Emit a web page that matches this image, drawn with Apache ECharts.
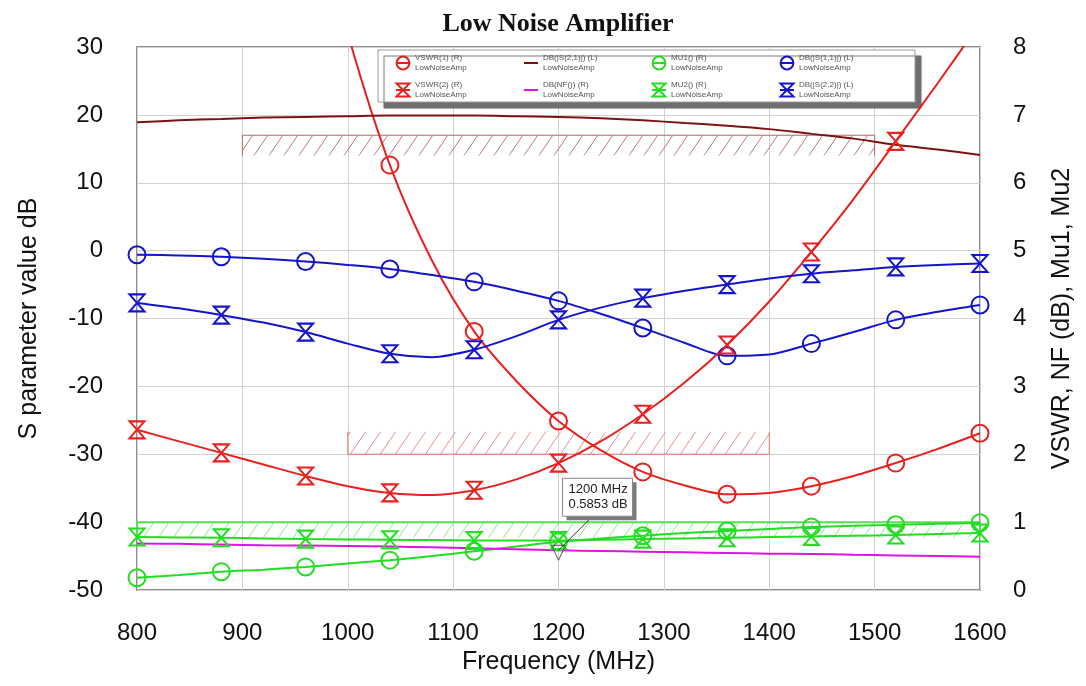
<!DOCTYPE html>
<html>
<head>
<meta charset="utf-8">
<title>Low Noise Amplifier</title>
<script src="https://cdn.jsdelivr.net/npm/echarts@6/dist/echarts.min.js"></script>
<style>
  html, body { margin: 0; padding: 0; background: #ffffff; }
  #chart { width: 1086px; height: 686px; }
</style>
</head>
<body>
<div id="chart"></div>
<script>
// Sweep frequencies (MHz); markers are drawn on every other point (80 MHz steps)
const freq = [800, 840, 880, 920, 960, 1000, 1040, 1080, 1120, 1160, 1200,
              1240, 1280, 1320, 1360, 1400, 1440, 1480, 1520, 1560, 1600];

// Left axis (dB)
const s21 = [18.9, 19.2, 19.4, 19.6, 19.7, 19.8, 19.9, 19.9, 19.9, 19.8, 19.7,
             19.5, 19.2, 18.8, 18.4, 17.9, 17.2, 16.5, 15.6, 14.9, 14.1];
const s11 = [-0.6, -0.7, -0.9, -1.2, -1.6, -2.1, -2.7, -3.6, -4.6, -5.9, -7.4,
             -9.3, -11.4, -13.6, -15.5, -15.3, -13.7, -12.0, -10.2, -9.0, -8.0];
const s22 = [-7.7, -8.5, -9.5, -10.6, -12.0, -13.7, -15.2, -15.7, -14.6, -12.6, -10.2,
             -8.4, -7.0, -5.9, -5.0, -4.1, -3.4, -2.9, -2.4, -2.1, -1.9];

// Right axis (VSWR, NF in dB, stability factors)
const vswr1 = [24.0, 20.0, 16.6, 13.5, 10.6, 8.2, 6.26, 4.85, 3.81, 3.08, 2.49,
               2.06, 1.74, 1.54, 1.41, 1.43, 1.53, 1.68, 1.87, 2.08, 2.31];
const vswr2 = [2.36, 2.19, 2.02, 1.85, 1.68, 1.53, 1.43, 1.40, 1.47, 1.63, 1.87,
               2.19, 2.59, 3.06, 3.61, 4.25, 4.98, 5.76, 6.61, 7.47, 8.35];
const mu1 = [0.18, 0.22, 0.27, 0.30, 0.34, 0.39, 0.44, 0.50, 0.57, 0.64, 0.71,
             0.76, 0.80, 0.84, 0.87, 0.90, 0.93, 0.945, 0.96, 0.975, 0.99];
const mu2 = [0.78, 0.775, 0.77, 0.76, 0.75, 0.745, 0.74, 0.735, 0.73, 0.73, 0.73,
             0.74, 0.75, 0.76, 0.77, 0.78, 0.79, 0.80, 0.81, 0.825, 0.84];
const nf = [0.685, 0.68, 0.67, 0.66, 0.655, 0.65, 0.64, 0.63, 0.615, 0.60, 0.5853,
            0.575, 0.565, 0.555, 0.545, 0.535, 0.53, 0.52, 0.51, 0.50, 0.49];

// Optimisation goals: [start MHz, end MHz, goal level, far edge of hatching]
const goalS21 = [900, 1500, 17, 14];
const goalVswr = [1000, 1400, 2, 2.33];
const goalMu = [800, 1600, 1, 0.77];

// Readout marker on the noise figure trace
const markerFreq = 1200;
const markerValue = nf[freq.indexOf(markerFreq)];

const dataset = 'LowNoiseAmp';
const C = {
  red: '#e8201e',
  brown: '#7d1212',
  green: '#22dd22',
  blue: '#1414cc',
  magenta: '#e014e0'
};
const hourglass = 'path://M0,0L16,0L8,9L16,18L0,18L8,9Z';

function hatchTile(color, w, h, lw) {
  const c = document.createElement('canvas');
  c.width = w; c.height = h;
  const g = c.getContext('2d');
  g.strokeStyle = color;
  g.lineWidth = lw;
  g.beginPath();
  g.moveTo(-1, h + 1.5);
  g.lineTo(w + 1, -1.5);
  g.stroke();
  return c;
}

function curve(name, values, color, axis, symbol, size) {
  return {
    type: 'line',
    name: name,
    yAxisIndex: axis,
    smooth: 0.3,
    symbol: symbol || 'circle',
    symbolSize: size || 1,
    showSymbol: true,
    showAllSymbol: true,
    clip: true,
    z: 4,
    lineStyle: { color: color, width: 2 },
    itemStyle: { color: 'rgba(0,0,0,0)', borderColor: color, borderWidth: symbol ? 2 : 0 },
    emphasis: { disabled: true },
    data: values.map((v, i) => (symbol && i % 2 === 0)
      ? [freq[i], v]
      : { value: [freq[i], v], symbol: 'none' })
  };
}

function goal(g, axis, color, border, lw) {
  return {
    type: 'custom',
    yAxisIndex: axis,
    z: 2,
    silent: true,
    encode: { x: [0, 1], y: [2, 3] },
    data: [g],
    renderItem: function (params, api) {
      const a = api.coord([api.value(0), api.value(2)]);
      const b = api.coord([api.value(1), api.value(3)]);
      const x0 = a[0], x1 = b[0], yl = a[1], ye = b[1];
      return {
        type: 'group',
        children: [
          {
            type: 'rect',
            shape: { x: x0, y: Math.min(yl, ye), width: x1 - x0, height: Math.abs(ye - yl) },
            style: { fill: { image: hatchTile(color, 15, 22, 1), repeat: 'repeat' } }
          },
          {
            type: 'polyline',
            shape: { points: [[x0, ye], [x0, yl], [x1, yl], [x1, ye]] },
            style: { fill: 'none', stroke: border, lineWidth: lw }
          }
        ]
      };
    }
  };
}

const readout = {
  type: 'custom',
  yAxisIndex: 1,
  z: 10,
  silent: true,
  data: [[markerFreq, markerValue]],
  renderItem: function (params, api) {
    const p = api.coord([api.value(0), api.value(1)]);
    const bx = p[0] + 4, by = p[1] - 72, bw = 70, bh = 38;
    const label = api.value(0) + ' MHz\n' + api.value(1) + ' dB';
    return {
      type: 'group',
      children: [
        { type: 'polygon', shape: { points: [[p[0] - 7, p[1] - 5], [p[0] + 7, p[1] - 5], [p[0], p[1] + 10]] },
          style: { fill: 'none', stroke: '#555', lineWidth: 1 } },
        { type: 'line', shape: { x1: p[0], y1: p[1], x2: bx + 30, y2: by + bh },
          style: { stroke: '#333', lineWidth: 1 } },
        { type: 'rect', shape: { x: bx + 4, y: by + 4, width: bw, height: bh },
          style: { fill: '#7a7a7a' } },
        { type: 'rect', shape: { x: bx, y: by, width: bw, height: bh },
          style: { fill: '#ffffff', stroke: '#888', lineWidth: 1 } },
        { type: 'text', x: bx + 6, y: by + 4,
          style: { text: label, fill: '#222', font: '13px "Liberation Sans", Arial, sans-serif', lineHeight: 15 } }
      ]
    };
  }
};

const plainNumber = function (v) { return String(v); };
const tickFont = { fontFamily: '"Liberation Sans", Arial, sans-serif', fontSize: 24, color: '#111', formatter: plainNumber };
const nameFont = { fontFamily: '"Liberation Sans", Arial, sans-serif', fontSize: 25, color: '#111' };

const legendNames = [
  'VSWR(1) (R)', 'DB(|S(2,1)|) (L)', 'MU1() (R)', 'DB(|S(1,1)|) (L)',
  'VSWR(2) (R)', 'DB(NF()) (R)', 'MU2() (R)', 'DB(|S(2,2)|) (L)'
];

const chart = echarts.init(document.getElementById('chart'));
chart.setOption({
  animation: false,
  backgroundColor: '#ffffff',
  title: {
    text: 'Low Noise Amplifier',
    left: 553,
    top: 6,
    textAlign: 'center',
    textStyle: { fontFamily: '"Liberation Serif", "Times New Roman", serif', fontWeight: 'bold', fontSize: 26, color: '#111' }
  },
  legend: {
    data: legendNames,
    left: 378,
    top: 50,
    width: 505,
    orient: 'horizontal',
    itemGap: 9,
    itemWidth: 14,
    itemHeight: 16,
    padding: [4, 17, 3, 17],
    backgroundColor: '#ffffff',
    borderColor: '#9a9a9a',
    borderWidth: 1,
    shadowColor: '#6e6e6e',
    shadowBlur: 1,
    shadowOffsetX: 6,
    shadowOffsetY: 6,
    selectedMode: false,
    formatter: function (name) { return '{a|' + name + '}\n{a|' + dataset + '}'; },
    textStyle: {
      color: '#555',
      rich: { a: { width: 99, fontSize: 8, lineHeight: 10, color: '#555', fontFamily: '"Liberation Sans", Arial, sans-serif' } }
    }
  },
  grid: {
    left: 137, right: 106, top: 47, bottom: 96,
    show: true, borderColor: '#8f8f8f', borderWidth: 2, backgroundColor: '#ffffff'
  },
  xAxis: {
    type: 'value', min: 800, max: 1600, interval: 100,
    name: 'Frequency (MHz)', nameLocation: 'middle', nameGap: 58, nameTextStyle: nameFont,
    axisLine: { show: false }, axisTick: { show: false },
    axisLabel: Object.assign({ margin: 31 }, tickFont),
    splitLine: { show: true, lineStyle: { color: '#d2d2d2', width: 1 } }
  },
  yAxis: [
    {
      type: 'value', min: -50, max: 30, interval: 10, position: 'left',
      name: 'S parameter value dB', nameLocation: 'middle', nameGap: 95, nameTextStyle: nameFont,
      axisLine: { show: false }, axisTick: { show: false },
      axisLabel: Object.assign({ margin: 34 }, tickFont),
      splitLine: { show: true, lineStyle: { color: '#d2d2d2', width: 1 } }
    },
    {
      type: 'value', min: 0, max: 8, interval: 1, position: 'right',
      name: 'VSWR, NF (dB), Mu1, Mu2', nameLocation: 'middle', nameGap: 70, nameTextStyle: nameFont,
      axisLine: { show: false }, axisTick: { show: false },
      axisLabel: Object.assign({ margin: 33 }, tickFont),
      splitLine: { show: false }
    }
  ],
  series: [
    goal(goalS21, 0, '#b77a7a', '#b06a6a', 1),
    goal(goalVswr, 1, '#ec8a8a', '#e67a7a', 1),
    goal(goalMu, 1, '#8fe88f', '#55e055', 2),
    curve('VSWR(1) (R)', vswr1, C.red, 1, 'circle', 17),
    curve('DB(|S(2,1)|) (L)', s21, C.brown, 0, null),
    curve('MU1() (R)', mu1, C.green, 1, 'circle', 17),
    curve('DB(|S(1,1)|) (L)', s11, C.blue, 0, 'circle', 17),
    curve('VSWR(2) (R)', vswr2, C.red, 1, hourglass, [15, 17]),
    curve('DB(NF()) (R)', nf, C.magenta, 1, null),
    curve('MU2() (R)', mu2, C.green, 1, hourglass, [15, 17]),
    curve('DB(|S(2,2)|) (L)', s22, C.blue, 0, hourglass, [15, 17]),
    readout
  ]
});
</script>
</body>
</html>
